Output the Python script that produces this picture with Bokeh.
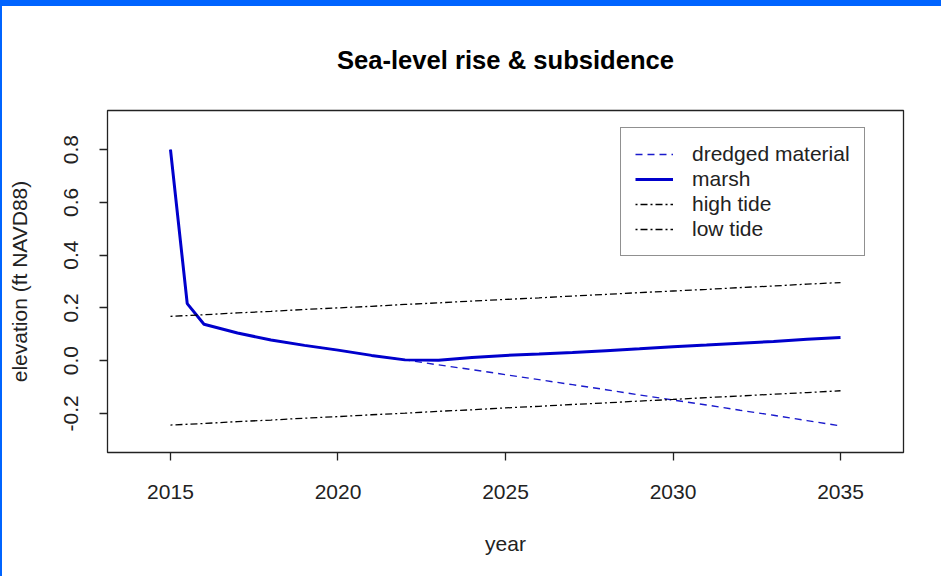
from bokeh.plotting import figure
from bokeh.models import (Range1d, FixedTicker, PrintfTickFormatter, Legend, LegendItem, Div)
from bokeh.layouts import column, row
from bokeh.embed import file_html
from bokeh.resources import INLINE

# ---- data ----
marsh_year = [2015, 2015.5, 2016, 2017, 2018, 2019, 2020, 2021, 2022, 2023, 2024,
              2025, 2026, 2027, 2028, 2029, 2030, 2031, 2032, 2033, 2034, 2035]
marsh = [0.80, 0.216, 0.138, 0.105, 0.078, 0.058, 0.040, 0.020, 0.003, 0.002, 0.012,
         0.020, 0.025, 0.031, 0.038, 0.045, 0.053, 0.059, 0.066, 0.073, 0.081, 0.088]
dredged = [0.80, 0.216, 0.138, 0.105, 0.078, 0.058, 0.040, 0.020, 0.003, -0.016, -0.034,
           -0.053, -0.072, -0.091, -0.110, -0.130, -0.149, -0.168, -0.188, -0.207, -0.227, -0.247]
tide_year = [2015, 2016, 2017, 2018, 2019, 2020, 2021, 2022, 2023, 2024, 2025,
             2026, 2027, 2028, 2029, 2030, 2031, 2032, 2033, 2034, 2035]
high_tide = [0.168, 0.174, 0.181, 0.187, 0.194, 0.200, 0.206, 0.213, 0.219, 0.226, 0.232,
             0.238, 0.245, 0.251, 0.258, 0.264, 0.270, 0.277, 0.283, 0.290, 0.296]
low_tide = [-0.244, -0.238, -0.231, -0.225, -0.218, -0.212, -0.205, -0.199, -0.192, -0.186, -0.179,
            -0.173, -0.166, -0.160, -0.153, -0.147, -0.140, -0.134, -0.127, -0.121, -0.114]
x_ticks = [2015, 2020, 2025, 2030, 2035]
y_ticks = [-0.2, 0.0, 0.2, 0.4, 0.6, 0.8]

FONT = "Liberation Sans"

p = figure(width=939, height=570, output_backend="svg", toolbar_location=None,
           title="Sea-level rise & subsidence",
           x_range=Range1d(2013.12, 2036.88), y_range=Range1d(-0.348, 0.948),
           min_border_left=105, min_border_right=38, min_border_top=104, min_border_bottom=124,
           margin=0)
p.xgrid.visible = False
p.ygrid.visible = False
p.outline_line_color = "#222222"
p.outline_line_width = 1.3
p.background_fill_color = "white"
p.border_fill_color = "white"

p.title.text_font = FONT
p.title.text_font_size = "25.6px"
p.title.text_font_style = "bold"
p.title.text_color = "black"
p.title.align = "center"
p.title.standoff = 74

r_dr = p.line(marsh_year, dredged, line_color="#1a1acc", line_width=1.4, line_dash="7 5")
r_ma = p.line(marsh_year, marsh, line_color="#0000cc", line_width=3)
r_hi = p.line(tide_year, high_tide, line_color="black", line_width=1.3, line_dash="2 3 7 3")
r_lo = p.line(tide_year, low_tide, line_color="black", line_width=1.3, line_dash="2 3 7 3")

for ax in (p.xaxis[0], p.yaxis[0]):
    ax.axis_line_color = None
    ax.major_tick_line_color = "#222222"
    ax.major_tick_line_width = 1.3
    ax.major_tick_in = 0
    ax.major_tick_out = 8
    ax.minor_tick_line_color = None
    ax.major_label_text_font = FONT
    ax.major_label_text_font_size = "21px"
    ax.major_label_text_color = "#222222"
    ax.axis_label_text_font = FONT
    ax.axis_label_text_font_size = "21px"
    ax.axis_label_text_font_style = "normal"
    ax.axis_label_text_color = "#222222"

p.xaxis.ticker = FixedTicker(ticks=x_ticks)
p.xaxis.axis_label = "year"
p.xaxis.major_label_standoff = 24
p.xaxis.axis_label_standoff = 30

p.yaxis.ticker = FixedTicker(ticks=y_ticks)
p.yaxis.formatter = PrintfTickFormatter(format="%.1f")
p.yaxis.major_label_orientation = "vertical"
p.yaxis.axis_label = "elevation (ft NAVD88)"
p.yaxis.major_label_standoff = 21
p.yaxis.axis_label_standoff = 31

legend = Legend(items=[
    LegendItem(label="dredged material", renderers=[r_dr]),
    LegendItem(label="marsh", renderers=[r_ma]),
    LegendItem(label="high tide", renderers=[r_hi]),
    LegendItem(label="low tide", renderers=[r_lo]),
], location=(513, 196))
legend.label_text_font = FONT
legend.label_text_font_size = "21px"
legend.label_text_color = "#222222"
legend.label_height = 20
legend.glyph_height = 20
legend.glyph_width = 38
legend.label_standoff = 19
legend.spacing = 1
legend.padding = 14
legend.margin = 0
legend.border_line_color = "#222222"
legend.border_line_width = 1.3
legend.background_fill_alpha = 1.0
p.add_layout(legend, "center")

top_bar = Div(text="", width=941, height=6, margin=0,
              styles={"background-color": "#0064ff"})
left_bar = Div(text="", width=2, height=570, margin=0,
               styles={"background-color": "#0064ff"})
layout = column(top_bar, row(left_bar, p, spacing=0, margin=0), spacing=0, margin=0)

open("out.html", "w").write(file_html(layout, INLINE))
